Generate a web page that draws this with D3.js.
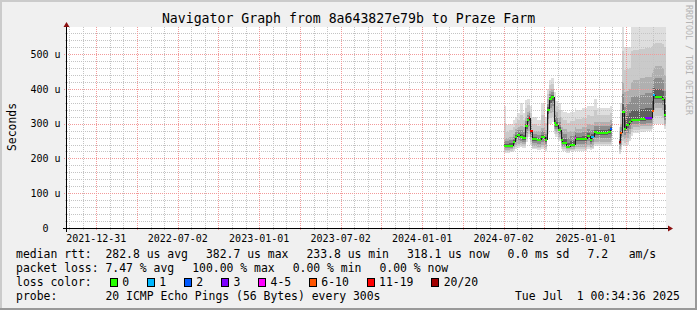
<!DOCTYPE html>
<html>
<head>
<meta charset="utf-8">
<script src="https://cdn.jsdelivr.net/npm/d3@7"></script>
<style>
  body { margin: 0; background: #f0f0f0; }
  svg { display: block; font-family: "DejaVu Sans Mono", monospace; }
  text { white-space: pre; }
</style>
</head>
<body>
<div id="chart"></div>
<script>
const width = 697;
const height = 310;
const plot = { left: 67, right: 666, top: 27, bottom: 228 };

const titleText = "Navigator Graph from 8a643827e79b to Praze Farm";
const startTime = "2021-10-27T10:00:00Z";
const endTime = "2025-07-01T00:34:36Z";

// smokeping samples (each value holds until the next date)
const dates = [
  "2024-07-03", "2024-07-06", "2024-07-15", "2024-07-22", "2024-07-27", "2024-07-31",
  "2024-08-07", "2024-08-13", "2024-08-20", "2024-08-24", "2024-08-27", "2024-08-30",
  "2024-09-04", "2024-09-14", "2024-09-23", "2024-10-02", "2024-10-07", "2024-10-12",
  "2024-10-17", "2024-10-22", "2024-10-26", "2024-10-31", "2024-11-07", "2024-11-11",
  "2024-11-20", "2024-11-27", "2024-12-08", "2024-12-11", "2024-12-24", "2025-01-04",
  "2025-01-11", "2025-01-15", "2025-01-20", "2025-01-26", "2025-02-09", "2025-02-20",
  "2025-02-26", "2025-03-01", "2025-03-17", "2025-03-21", "2025-03-24", "2025-03-29",
  "2025-04-02", "2025-04-08", "2025-04-13", "2025-04-17", "2025-05-03", "2025-05-16",
  "2025-05-30", "2025-06-02", "2025-06-06", "2025-06-21", "2025-06-26", "2025-07-01T00:34:36Z"
];
const median = [
  236, 236, 237, 246, 262, 267, 263, 258, 292, 312, 316, 278,
  256, 254, 262, 254, 340, 370, 376, 302, 296, 282, 253, 245,
  234, 240, 259, 255, 256, 265, 252, 262, 275, 274, 273, 276,
  285, null, 248, 273, 335, 286, 296, 306, 311, 312, 313, 316,
  337, 383, 378, 372, 325, 318
];
const lossLevel = [
  0, 0, 0, 0, 0, 0, 0, 0, 0, 0, 6, 6,
  0, 0, 0, 0, 0, 0, 0, 0, 0, 0, 0, 0,
  0, 0, 4, 0, 0, 0, 0, 1, 0, 0, 0, 0,
  2, 0, 7, 5, 0, 0, 0, 0, 0, 0, 0, 3,
  5, 1, 0, 0, 0, 0
];
const smokeMin = [
  216, 216, 218, 222, 228, 230, 232, 230, 248, 262, 262, 240,
  226, 224, 228, 222, 270, 300, 305, 270, 262, 250, 228, 222,
  216, 220, 222, 222, 222, 228, 224, 226, 236, 236, 236, 236,
  240, null, 212, 225, 240, 236, 238, 250, 265, 272, 275, 278,
  285, 300, 300, 295, 285, 285
];
const smokeLow = [
  226, 225, 226, 232, 240, 242, 244, 242, 262, 278, 280, 252,
  236, 234, 238, 232, 295, 330, 335, 285, 276, 262, 238, 232,
  226, 228, 234, 232, 232, 240, 234, 236, 248, 248, 248, 248,
  252, null, 226, 240, 262, 255, 258, 270, 285, 290, 292, 294,
  300, 340, 345, 340, 300, 300
];
const smokeHigh = [
  256, 258, 262, 270, 285, 290, 292, 290, 320, 335, 340, 310,
  280, 278, 288, 282, 370, 395, 400, 340, 335, 320, 290, 285,
  275, 280, 290, 285, 290, 300, 295, 295, 305, 305, 305, 305,
  310, null, 262, 300, 420, 390, 395, 400, 420, 425, 430, 435,
  445, 460, 465, 460, 440, 440
];
const smokeMax = [
  350, 295, 300, 310, 320, 330, 360, 330, 368, 372, 370, 350,
  320, 310, 360, 320, 400, 425, 430, 390, 365, 360, 340, 335,
  330, 335, 345, 340, 345, 350, 350, 350, 372, 345, 345, 345,
  350, null, 290, 360, 600, 520, 520, 520, 600, 600, 600, 600,
  600, 600, 600, 600, 600, 600
];

const lossLabels = ["0", "1", "2", "3", "4-5", "6-10", "11-19", "20/20"];
const lossColors = ["#26ff00", "#00b8ff", "#0059ff", "#7e00ff", "#ff00ff", "#ff5500", "#ff0000", "#a10000"];

const yTickValues = [0, 100, 200, 300, 400, 500];
const yTickLabels = ["  0", "100 u", "200 u", "300 u", "400 u", "500 u"];
const xTickTimes = [
  "2022-01-01T00:00:00Z", "2022-07-02T15:00:00Z", "2023-01-01T06:00:00Z", "2023-07-02T21:00:00Z",
  "2024-01-01T12:00:00Z", "2024-07-02T03:00:00Z", "2025-01-01T18:00:00Z"
];
const xTickLabels = ["2021-12-31", "2022-07-02", "2023-01-01", "2023-07-02", "2024-01-01", "2024-07-02", "2025-01-01"];

const medianLegend = ["median rtt:  282.8 us avg", "382.7 us max", "233.8 us min", "318.1 us now", "0.0 ms sd", "7.2   am/s"];
const lossLegend = ["packet loss: 7.47 % avg", "100.00 % max", "0.00 % min", "0.00 % now"];
const probeText = "probe:       20 ICMP Echo Pings (56 Bytes) every 300s";
const stampText = "Tue Jul  1 00:34:36 2025";

const parse = s => new Date(s.length === 10 ? s + "T00:00:00Z" : s);
const rows = dates.map((d, i) => ({
  t: parse(d), med: median[i], loss: lossLevel[i],
  min: smokeMin[i], low: smokeLow[i], high: smokeHigh[i], max: smokeMax[i]
}));

const x = d3.scaleUtc().domain([parse(startTime), parse(endTime)]).range([plot.left, plot.right]);
const y = d3.scaleLinear().domain([0, 578]).range([plot.bottom, plot.top]);

const svg = d3.select("#chart").append("svg")
  .attr("width", width)
  .attr("height", height);

// background and 3d frame
svg.append("rect").attr("width", width).attr("height", height).attr("fill", "#f0f0f0");
svg.append("rect").attr("x", 0).attr("y", 0).attr("width", width).attr("height", 2).attr("fill", "#cbcbcb");
svg.append("rect").attr("x", 0).attr("y", 0).attr("width", 2).attr("height", height).attr("fill", "#cbcbcb");
svg.append("rect").attr("x", 0).attr("y", height - 2).attr("width", width).attr("height", 2).attr("fill", "#999999");
svg.append("rect").attr("x", width - 2).attr("y", 0).attr("width", 2).attr("height", height).attr("fill", "#999999");

svg.append("rect")
  .attr("x", plot.left).attr("y", plot.top)
  .attr("width", plot.right - plot.left).attr("height", plot.bottom - plot.top)
  .attr("fill", "#ffffff");

svg.append("defs").append("clipPath").attr("id", "clip")
  .append("rect")
  .attr("x", plot.left).attr("y", plot.top)
  .attr("width", plot.right - plot.left).attr("height", plot.bottom - plot.top);

// smoke: nested bands from outer (min/max) towards median
const lowerAt = (d, f) => f <= 1 ? d.min + f * (d.low - d.min) : d.low + (f - 1) * (d.med - d.low);
const upperAt = (d, f) => f <= 1 ? d.max + f * (d.high - d.max) : d.high + (f - 1) * (d.med - d.high);
const smokeLayers = [
  { f: 0, color: "#dedede" },
  { f: 0.5, color: "#cacaca" },
  { f: 1, color: "#b0b0b0" },
  { f: 1.4, color: "#8e8e8e" },
  { f: 1.75, color: "#5e5e5e" }
];

const segs = rows.slice(0, -1).map((d, i) => ({ d, x0: x(d.t), x1: x(rows[i + 1].t), next: rows[i + 1] }))
  .filter(s => s.d.med != null);

const smokeG = svg.append("g").attr("clip-path", "url(#clip)");
smokeLayers.forEach(layer => {
  smokeG.selectAll(null)
    .data(segs)
    .enter()
    .append("rect")
    .attr("x", s => s.x0)
    .attr("width", s => s.x1 - s.x0 + 0.3)
    .attr("y", s => y(upperAt(s.d, layer.f)))
    .attr("height", s => y(lowerAt(s.d, layer.f)) - y(upperAt(s.d, layer.f)))
    .attr("fill", layer.color)
    .attr("shape-rendering", "crispEdges");
});

// grid
const grid = svg.append("g").attr("shape-rendering", "crispEdges");
const dayMs = 86400000;
const t0 = x.domain()[0].getTime(), t1 = x.domain()[1].getTime();
const minorStep = 30.4375 * dayMs, majorStep = 91.3125 * dayMs;
const minorTimes = d3.range(Math.ceil(t0 / minorStep), Math.floor(t1 / minorStep) + 1).map(k => k * minorStep);
const majorTimes = d3.range(Math.ceil(t0 / majorStep), Math.floor(t1 / majorStep) + 1).map(k => k * majorStep);
const minorCol = "#c4c4c4", majorCol = "#f29a9a";

minorTimes.forEach(t => {
  const px = Math.round(x(new Date(t))) + 0.5;
  grid.append("line").attr("x1", px).attr("x2", px).attr("y1", plot.top).attr("y2", plot.bottom + 2)
    .attr("stroke", minorCol).attr("stroke-dasharray", "1,1");
});
d3.range(20, 580, 20).filter(v => v % 100 !== 0).forEach(v => {
  const py = Math.round(y(v)) + 0.5;
  grid.append("line").attr("x1", plot.left - 2).attr("x2", plot.right).attr("y1", py).attr("y2", py)
    .attr("stroke", minorCol).attr("stroke-dasharray", "1,1");
});
majorTimes.forEach(t => {
  const px = Math.round(x(new Date(t))) + 0.5;
  grid.append("line").attr("x1", px).attr("x2", px).attr("y1", plot.top).attr("y2", plot.bottom + 3)
    .attr("stroke", majorCol).attr("stroke-dasharray", "1,1");
});
yTickValues.filter(v => v > 0).forEach(v => {
  const py = Math.round(y(v)) + 0.5;
  grid.append("line").attr("x1", plot.left - 3).attr("x2", plot.right).attr("y1", py).attr("y2", py)
    .attr("stroke", majorCol).attr("stroke-dasharray", "1,1");
});

// median line coloured by loss
const medG = svg.append("g").attr("clip-path", "url(#clip)").attr("shape-rendering", "crispEdges");
segs.forEach(s => {
  if (s.next.med != null && s.next.med !== s.d.med) {
    medG.append("line")
      .attr("x1", Math.round(s.x1) + 0.5).attr("x2", Math.round(s.x1) + 0.5)
      .attr("y1", y(s.d.med)).attr("y2", y(s.next.med))
      .attr("stroke", "#1a1a1a").attr("stroke-width", 1);
  }
});
segs.forEach(s => {
  medG.append("line")
    .attr("x1", s.x0).attr("x2", s.x1 + 0.5)
    .attr("y1", y(s.d.med)).attr("y2", y(s.d.med))
    .attr("stroke", lossColors[s.d.loss]).attr("stroke-width", 2);
});

// axes
const axis = svg.append("g").attr("shape-rendering", "crispEdges");
axis.append("line").attr("x1", plot.left - 4).attr("x2", plot.right + 3)
  .attr("y1", plot.bottom + 0.5).attr("y2", plot.bottom + 0.5).attr("stroke", "#000");
axis.append("line").attr("x1", plot.left - 0.5).attr("x2", plot.left - 0.5)
  .attr("y1", plot.bottom + 4).attr("y2", plot.top - 3).attr("stroke", "#000");
svg.append("path")
  .attr("d", `M${plot.right + 2},${plot.bottom - 2.5}L${plot.right + 7},${plot.bottom + 0.5}L${plot.right + 2},${plot.bottom + 3.5}Z`)
  .attr("fill", "#8b1010");
svg.append("path")
  .attr("d", `M${plot.left - 3.5},${plot.top}L${plot.left - 0.5},${plot.top - 5}L${plot.left + 2.5},${plot.top}Z`)
  .attr("fill", "#8b1010");

// tick labels
svg.append("g").selectAll("text")
  .data(yTickValues)
  .enter()
  .append("text")
  .attr("x", 30.5)
  .attr("y", v => y(v) + 3.8)
  .attr("font-size", "10px")
  .attr("fill", "#000")
  .text((v, i) => yTickLabels[i]);

svg.append("g").selectAll("text")
  .data(xTickTimes)
  .enter()
  .append("text")
  .attr("x", t => x(parse(t)))
  .attr("y", 241.5)
  .attr("text-anchor", "middle")
  .attr("font-size", "10px")
  .attr("fill", "#000")
  .text((t, i) => xTickLabels[i]);

// title, unit, watermark
svg.append("text")
  .attr("x", width / 2)
  .attr("y", 23)
  .attr("text-anchor", "middle")
  .attr("font-size", "13.2px")
  .attr("fill", "#000")
  .text(titleText);

svg.append("text")
  .attr("transform", "translate(15.5,127) rotate(-90)")
  .attr("text-anchor", "middle")
  .attr("font-size", "11.4px")
  .attr("fill", "#000")
  .text("Seconds");

svg.append("text")
  .attr("transform", "translate(685.5,5) rotate(90)")
  .attr("font-size", "8.3px")
  .attr("fill", "#b4b4b4")
  .text("RRDTOOL / TOBI OETIKER");

// legend
const legFont = 11.43, legGap = 18;
function legendRow(items, yBase) {
  let cx = 16;
  items.forEach(s => {
    const t = svg.append("text")
      .attr("x", cx).attr("y", yBase)
      .attr("font-size", legFont + "px")
      .attr("fill", "#000")
      .text(s);
    cx += t.node().getComputedTextLength() + legGap;
  });
}
legendRow(medianLegend, 258.3);
legendRow(lossLegend, 272.3);

const lossRow = svg.append("text")
  .attr("x", 16).attr("y", 286.3)
  .attr("font-size", legFont + "px")
  .text("loss color:");
let lx = 16 + lossRow.node().getComputedTextLength() + legGap;
lossLabels.forEach((lab, i) => {
  svg.append("rect")
    .attr("x", lx + 0.5).attr("y", 278.5)
    .attr("width", 7).attr("height", 8)
    .attr("fill", lossColors[i])
    .attr("stroke", "#000")
    .attr("shape-rendering", "crispEdges");
  const t = svg.append("text")
    .attr("x", lx + 12.5).attr("y", 286.3)
    .attr("font-size", legFont + "px")
    .text(lab);
  lx += 12.5 + t.node().getComputedTextLength() + legGap - 0.3;
});

svg.append("text")
  .attr("x", 16).attr("y", 300.3)
  .attr("font-size", legFont + "px")
  .text(probeText);
svg.append("text")
  .attr("x", 680).attr("y", 300.3)
  .attr("text-anchor", "end")
  .attr("font-size", legFont + "px")
  .text(stampText);
</script>
</body>
</html>
